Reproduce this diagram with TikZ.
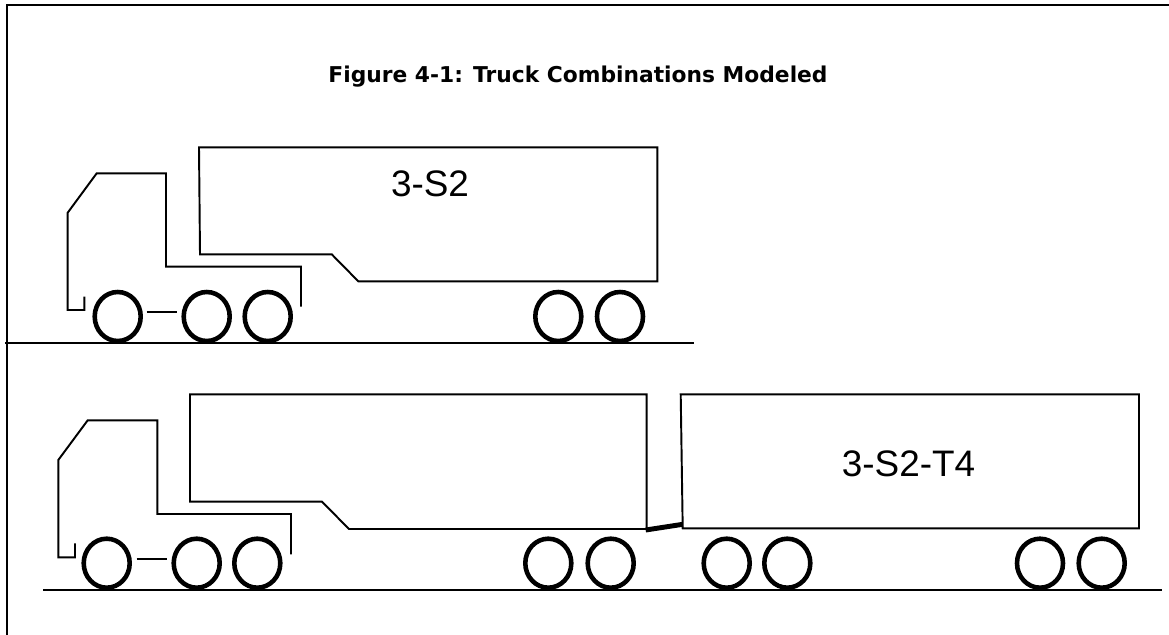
\documentclass[tikz,border=0pt]{standalone}
\usepackage{fontspec}
\setmainfont{Liberation Sans}
\newfontfamily\titlefont{DejaVu Sans}
\tikzset{
  body/.style={line width=1.1pt},
  wheel/.style={line width=2.6pt},
  hitch/.style={line width=2.8pt},
  tag/.style={anchor=base,font=\fontsize{21}{24}\selectfont}
}
\begin{document}
\begin{tikzpicture}[x=0.02cm,y=-0.02cm]
\useasboundingbox (0,0) rectangle (1169,635);
\draw[body] (7,635) -- (7,5) -- (1169,5);
\node[anchor=base] (title) at (578,83) {\titlefont\bfseries\fontsize{12.4}{14}\selectfont Figure 4-1: Truck Combinations Modeled};
% tractor and semitrailer
\draw[body] (5,343.3) -- (694,343.3);
\draw[body] (84.3,296.7) -- (84.3,310) -- (67.7,310) -- (67.7,212.7) -- (96.7,173.3) -- (166,173.3) -- (166,266.7) -- (301,266.7) -- (301,306.7);
\draw[body] (146.7,312) -- (176.7,312);
\draw[body] (200,254.3) -- (331.7,254.3) -- (358.3,281.3) -- (657.3,281.3) -- (657.3,147.3) -- (199,147.3) -- cycle;
\foreach \cx in {117.7,206.7,267.7,558.3,620}
  \draw[wheel] (\cx,316.5) ellipse [x radius=23,y radius=24.5];
\node[tag] (short) at (430,196) {3-S2};
% tractor, semitrailer and full trailer
\draw[body] (43,590) -- (1162,590);
\draw[body] (75,543.3) -- (75,557.3) -- (58.3,557.3) -- (58.3,460) -- (87.7,420.3) -- (157.3,420.3) -- (157.3,514) -- (291,514) -- (291,554.3);
\draw[body] (136.7,559.3) -- (167.3,559.3);
\draw[body] (190,501.7) -- (322,501.7) -- (349,529) -- (646.7,529) -- (646.7,394.3) -- (190,394.3) -- cycle;
\draw[hitch] (645.7,530) -- (682.7,524.3);
\draw[body] (680.7,394.3) -- (1139,394.3) -- (1139,528.3) -- (682.7,528.3) -- cycle;
\foreach \cx in {106.7,196.7,257.3,548.3,610.7,726.7,787.3,1040,1101.7}
  \draw[wheel] (\cx,563.2) ellipse [x radius=23,y radius=24.5];
\node[tag] (long) at (908.5,476.7) {3-S2-T4};
\end{tikzpicture}
\end{document}
